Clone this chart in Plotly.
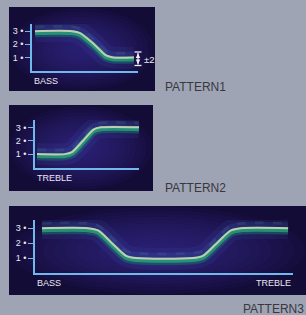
import plotly.graph_objects as go

# ---------------- data ----------------
tick_vals = [1, 2, 3]
tick_text = ["1 •", "2 •", "3 •"]

p1_x = [2.8, 37.7, 45.3, 58.5, 69.8, 76.4, 96.2]
p1_y = [3, 3, 2.85, 2, 1.15, 1, 1]

p2_x = [1.9, 28.8, 35.6, 46.2, 56.7, 63.5, 100]
p2_y = [1, 1, 1.15, 2, 2.85, 3, 3]

p3_x = [2.7, 20.5, 24.4, 29.8, 35.3, 39.1, 61.2, 65.1, 70.5, 76.0, 79.8, 98.1]
p3_y = [3, 3, 2.85, 2, 1.15, 1, 1, 1.15, 2, 2.85, 3, 3]

axis_labels = [("BASS", None), ("TREBLE", None), ("BASS", "TREBLE")]
pattern_names = ["PATTERN1", "PATTERN2", "PATTERN3"]
range_label = "±2"

# ---------------- geometry helpers ----------------
W, H = 306, 315
def fx(x): return x / W
def fy(y): return 1 - y / H

AX = "#72b8ea"
BG = "#9fa4b4"
PANEL = "#130c36"
GLOW = "#35298c"
FONT = "Liberation Sans Narrow, Liberation Sans, Arial, sans-serif"

panels = [
    dict(rect=(9, 7, 155, 91), ax=(32, 138, 70.5, 24), x=p1_x, y=p1_y),
    dict(rect=(9, 105, 153, 191), ax=(35, 139, 167.5, 120), x=p2_x, y=p2_y),
    dict(rect=(9, 206, 306, 295), ax=(35, 293, 273, 220), x=p3_x, y=p3_y),
]

fig = go.Figure()
shapes = []
annotations = []
layout_axes = {}

for i, p in enumerate(panels):
    n = "" if i == 0 else str(i + 1)
    xa, ya = "x" + n, "y" + n
    x0, y0, x1, y1 = p["rect"]
    shapes.append(dict(type="rect", xref="paper", yref="paper", x0=fx(x0), x1=fx(x1),
                       y0=fy(y1), y1=fy(y0), fillcolor=PANEL, line=dict(width=0), layer="below"))
    # soft radial glow, kept inside the panel
    cx, cy = (x0 + x1) / 2, (y0 + y1) / 2
    hw, hh = (x1 - x0) / 2 - 1, (y1 - y0) / 2 - 1
    for k in range(12):
        s = 1 - k * 0.075
        shapes.append(dict(type="circle", xref="paper", yref="paper",
                           x0=fx(cx - hw * s), x1=fx(cx + hw * s),
                           y0=fy(cy + hh * s), y1=fy(cy - hh * s),
                           fillcolor=GLOW, opacity=0.09, line=dict(width=0), layer="below"))
    l, r, b, t = p["ax"]
    layout_axes["xaxis" + n] = dict(domain=[fx(l), fx(r)], range=[0, 100], anchor=ya,
                                    showline=True, linecolor=AX, linewidth=1.6,
                                    showgrid=False, zeroline=False, showticklabels=False,
                                    fixedrange=True)
    layout_axes["yaxis" + n] = dict(domain=[fy(b), fy(t)], range=[0, 3.55], anchor=xa,
                                    showline=True, linecolor=AX, linewidth=1.6,
                                    showgrid=False, zeroline=False,
                                    tickvals=tick_vals, ticktext=tick_text,
                                    ticks="outside", ticklen=5, tickcolor=AX, tickwidth=1.2,
                                    ticklabelstandoff=0,
                                    tickfont=dict(family=FONT, size=9, color="#e8e8f2"),
                                    fixedrange=True)
    xs, ys = p["x"], p["y"]
    common = dict(x=xs, mode="lines", xaxis=xa, yaxis=ya, hoverinfo="skip", showlegend=False)
    sp = dict(shape="spline", smoothing=0.8)
    fig.add_trace(go.Scatter(y=ys, line=dict(color="rgba(80,110,220,0.10)", width=22, **sp), **common))
    fig.add_trace(go.Scatter(y=ys, line=dict(color="rgba(80,130,220,0.14)", width=12, **sp), **common))
    fig.add_trace(go.Scatter(y=[v + 0.33 for v in ys], line=dict(color="rgba(120,200,170,0.10)", width=3,
                                                               dash="dash", **sp), **common))
    fig.add_trace(go.Scatter(y=[v - 0.2 for v in ys], line=dict(color="rgba(20,110,90,0.45)", width=7, **sp), **common))
    fig.add_trace(go.Scatter(y=[v - 0.1 for v in ys], line=dict(color="rgba(40,170,120,0.75)", width=5, **sp), **common))
    fig.add_trace(go.Scatter(y=ys, line=dict(color="rgba(220,215,190,0.85)", width=2, **sp), **common))
    left_lab, right_lab = axis_labels[i]
    ylab = b + 10
    annotations.append(dict(text=left_lab, xref="paper", yref="paper", x=fx(l), y=fy(ylab),
                            xanchor="left", yanchor="middle", showarrow=False,
                            font=dict(family=FONT, size=9, color="#e8e8f2")))
    if right_lab:
        annotations.append(dict(text=right_lab, xref="paper", yref="paper", x=fx(r), y=fy(ylab),
                                xanchor="right", yanchor="middle", showarrow=False,
                                font=dict(family=FONT, size=9, color="#e8e8f2")))

for name, (xx, yy) in zip(pattern_names, [(163, 87), (163, 188), (241, 309)]):
    annotations.append(dict(text=name, xref="paper", yref="paper", x=fx(xx), y=fy(yy),
                            xanchor="left", yanchor="middle", showarrow=False,
                            font=dict(family="Liberation Sans, Arial, sans-serif", size=12, color="#38383e")))

# ±2 indicator
WH = "#f0f0f5"
for yy in (52, 65.5):
    shapes.append(dict(type="line", xref="paper", yref="paper", x0=fx(134.5), x1=fx(141.5),
                       y0=fy(yy), y1=fy(yy), line=dict(color=WH, width=1.3)))
shapes.append(dict(type="line", xref="paper", yref="paper", x0=fx(138), x1=fx(138),
                   y0=fy(53), y1=fy(64.5), line=dict(color=WH, width=1.2)))
for yy, ay in ((53.5, 5), (64, -5)):
    annotations.append(dict(text="", xref="paper", yref="paper", x=fx(138), y=fy(yy),
                            ax=0, ay=ay, showarrow=True, arrowhead=2, arrowsize=0.7,
                            arrowwidth=1.3, arrowcolor=WH))
annotations.append(dict(text=range_label, xref="paper", yref="paper", x=fx(142), y=fy(59),
                        xanchor="left", yanchor="middle", showarrow=False,
                        font=dict(family=FONT, size=9.5, color=WH)))

fig.update_layout(width=W, height=H, margin=dict(l=0, r=0, t=0, b=0),
                  paper_bgcolor=BG, plot_bgcolor="rgba(0,0,0,0)",
                  shapes=shapes, annotations=annotations, **layout_axes)
fig.write_html("out.html", config=dict(displayModeBar=False),
               post_script="document.body.style.margin='0';document.body.style.overflow='hidden';")
